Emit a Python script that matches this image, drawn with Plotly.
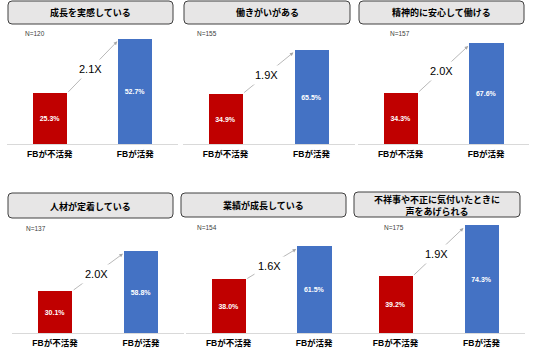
import plotly.graph_objects as go

# ---- data ----
titles = ["成長を実感している", "働きがいがある", "精神的に安心して働ける",
          "人材が定着している", "業績が成長している",
          "不祥事や不正に気付いたときに<br>声をあげられる"]
categories = ["FBが不活発", "FBが活発"]
inactive = [25.3, 34.9, 34.3, 30.1, 38.0, 39.2]
active = [52.7, 65.5, 67.6, 58.8, 61.5, 74.3]
ratios = ["2.1X", "1.9X", "2.0X", "2.0X", "1.6X", "1.9X"]
n_labels = ["N=120", "N=155", "N=157", "N=137", "N=154", "N=175"]

# ---- layout (pixel geometry) ----
W, H = 536, 360
panels = [
    dict(x0=7, x1=178, base=144, top=30, scale=2.0, box=(8, 1, 173, 24), nx=23, ny=33),
    dict(x0=182.5, x1=354.5, base=144, top=30, scale=1.44, box=(184, 1, 350, 24), nx=195, ny=33),
    dict(x0=357.75, x1=529, base=144, top=30, scale=1.49, box=(359, 1, 524, 24), nx=388, ny=33),
    dict(x0=12, x1=184, base=333, top=220, scale=1.395, box=(8, 193, 173, 218), nx=24, ny=228),
    dict(x0=185.75, x1=357, base=333, top=220, scale=1.41, box=(181, 193, 346, 217), nx=195, ny=227),
    dict(x0=352.5, x1=524.5, base=333, top=220, scale=1.45, box=(354, 192, 520, 217), nx=382, ny=227),
]
BAR_W = 0.40
RED = "#C00000"
BLUE = "#4472C4"
FONT = "Arial, Liberation Sans, Noto Sans CJK JP"


def px(x):
    return x / W


def py(y):
    return 1 - y / H


def rounded_rect(x0, y0, x1, y1, r=4):
    X0, X1 = px(x0), px(x1)
    Y0, Y1 = py(y0), py(y1)
    rx, ry = r / W, r / H
    return (f"M {X0+rx},{Y0} L {X1-rx},{Y0} Q {X1},{Y0} {X1},{Y0-ry} "
            f"L {X1},{Y1+ry} Q {X1},{Y1} {X1-rx},{Y1} "
            f"L {X0+rx},{Y1} Q {X0},{Y1} {X0},{Y1+ry} "
            f"L {X0},{Y0-ry} Q {X0},{Y0} {X0+rx},{Y0} Z")


fig = go.Figure()
layout = dict(width=W, height=H, margin=dict(l=0, r=0, t=0, b=0),
              paper_bgcolor="white", plot_bgcolor="white", showlegend=False,
              font=dict(family=FONT, color="black"), bargap=0)
shapes, annotations = [], []

for i, p in enumerate(panels):
    k = "" if i == 0 else str(i + 1)
    xa, ya = "x" + k, "y" + k
    vals = [inactive[i], active[i]]
    fig.add_trace(go.Bar(
        x=[0, 1], y=vals, width=BAR_W, marker=dict(color=[RED, BLUE], line=dict(width=0)),
        text=[f"<b>{v:.1f}%</b>" for v in vals], textposition="inside",
        insidetextanchor="middle", textangle=0, constraintext="none",
        textfont=dict(color="white", size=7, family="Arial, Liberation Sans"),
        xaxis=xa, yaxis=ya, hoverinfo="skip"))
    ymax = (p["base"] - p["top"]) / p["scale"]
    layout["xaxis" + k] = dict(domain=[px(p["x0"]), px(p["x1"])], range=[-0.5, 1.5],
                               anchor=ya, tickvals=[0, 1],
                               ticktext=[f"<b>{c}</b>" for c in categories],
                               tickfont=dict(size=8.5, color="black", family=FONT),
                               ticklabelstandoff=2,
                               showgrid=False, zeroline=False, showline=True,
                               linecolor="#d9d9d9", linewidth=1, ticks="", fixedrange=True)
    layout["yaxis" + k] = dict(domain=[py(p["base"]), py(p["top"])], range=[0, ymax],
                               anchor=xa, visible=False, fixedrange=True)
    # title box
    bx0, by0, bx1, by1 = p["box"]
    shapes.append(dict(type="path", xref="paper", yref="paper",
                       path=rounded_rect(bx0, by0, bx1, by1),
                       fillcolor="#e7e6e6", line=dict(color="#404040", width=1), layer="below"))
    annotations.append(dict(xref="paper", yref="paper", x=px((bx0 + bx1) / 2),
                            y=py((by0 + by1) / 2 + 0.5), text=f"<b>{titles[i]}</b>",
                            showarrow=False, xanchor="center", yanchor="middle",
                            font=dict(size=9, color="black", family=FONT)))
    # N label
    annotations.append(dict(xref="paper", yref="paper", x=px(p["nx"]), y=py(p["ny"]),
                            text=n_labels[i], showarrow=False, xanchor="left",
                            yanchor="middle", font=dict(size=6.5, color="#404040")))
    # arrow
    annotations.append(dict(xref=xa, yref=ya, axref=xa, ayref=ya,
                            x=1 - BAR_W / 2 - 0.01, y=active[i] - 2.7 / p["scale"],
                            ax=BAR_W / 2, ay=inactive[i], text="", showarrow=True,
                            arrowhead=2, arrowsize=0.9, arrowwidth=0.8,
                            arrowcolor="#a6a6a6", standoff=0, startstandoff=0))
    # ratio label
    annotations.append(dict(xref=xa, yref=ya, x=0.48, y=(inactive[i] + active[i]) / 2,
                            yshift=-3, text=ratios[i], showarrow=False,
                            bgcolor="white", borderpad=3,
                            font=dict(size=11, color="black", family="Arial, Liberation Sans")))

layout["shapes"] = shapes
layout["annotations"] = annotations
fig.update_layout(**layout)
fig.write_html("out.html", config={"displayModeBar": False},
               post_script="document.body.style.margin='0';document.body.style.overflow='hidden';")
